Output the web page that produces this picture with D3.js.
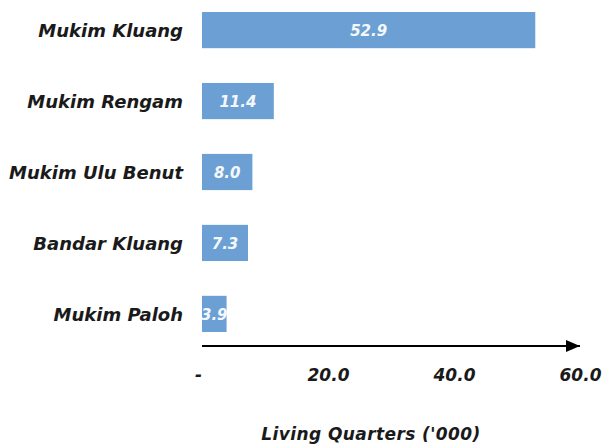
<!DOCTYPE html>
<html>
<head>
<meta charset="utf-8">
<script src="https://cdn.jsdelivr.net/npm/d3@7"></script>
<style>
  html, body { margin: 0; padding: 0; background: #ffffff; }
  svg { display: block; }
  text { font-family: "DejaVu Sans", "Lato", sans-serif; font-style: italic; }
</style>
</head>
<body>
<svg id="chart" width="604" height="445"></svg>
<script>
// Living quarters by mukim, in thousands
const categories = ["Mukim Kluang", "Mukim Rengam", "Mukim Ulu Benut", "Bandar Kluang", "Mukim Paloh"];
const values = [52.9, 11.4, 8.0, 7.3, 3.9];
const tickValues = [0, 20, 40, 60];
const tickLabels = ["-", "20.0", "40.0", "60.0"];
const axisTitle = "Living Quarters ('000)";

const svg = d3.select("#chart");

const x = d3.scaleLinear().domain([0, 60]).range([202, 580]);
const y = d3.scaleBand().domain(categories).range([12, 332]).paddingInner(0.49).paddingOuter(0);

const barColor = "#6ca0d4";

// Bars
svg.append("g").selectAll("rect")
  .data(values)
  .join("rect")
  .attr("x", x(0))
  .attr("y", (d, i) => y(categories[i]))
  .attr("width", d => x(d) - x(0))
  .attr("height", y.bandwidth())
  .attr("fill", barColor);

// Value labels inside bars
svg.append("g").selectAll("text")
  .data(values)
  .join("text")
  .attr("x", d => (x(0) + x(d)) / 2)
  .attr("y", (d, i) => y(categories[i]) + y.bandwidth() / 2 + 6)
  .attr("text-anchor", "middle")
  .attr("fill", "#f4f8fc")
  .attr("font-size", 15)
  .attr("font-weight", 700)
  .text(d => d.toFixed(1));

// Category labels
svg.append("g").selectAll("text")
  .data(categories)
  .join("text")
  .attr("x", 183)
  .attr("y", d => y(d) + y.bandwidth() / 2 + 7)
  .attr("text-anchor", "end")
  .attr("fill", "#1a1a1a")
  .attr("font-size", 18)
  .attr("font-weight", 700)
  .text(d => d);

// Axis with arrowhead
svg.append("defs").append("marker")
  .attr("id", "arrow")
  .attr("viewBox", "0 0 14 12")
  .attr("refX", 14).attr("refY", 6)
  .attr("markerWidth", 14).attr("markerHeight", 12)
  .attr("markerUnits", "userSpaceOnUse")
  .attr("orient", "auto")
  .append("path")
  .attr("d", "M0,0 L14,6 L0,12 Z")
  .attr("fill", "#000");

svg.append("line")
  .attr("x1", x(0)).attr("x2", x(60))
  .attr("y1", 346).attr("y2", 346)
  .attr("stroke", "#000")
  .attr("stroke-width", 2)
  .attr("marker-end", "url(#arrow)");

const axis = d3.axisBottom(x)
  .tickValues(tickValues)
  .tickSize(0)
  .tickFormat((d, i) => tickLabels[i]);

const axisG = svg.append("g")
  .attr("transform", "translate(0,366)")
  .call(axis);
axisG.select(".domain").remove();
axisG.selectAll("text")
  .attr("font-family", null)
  .attr("font-size", 17)
  .attr("font-weight", 700)
  .attr("fill", "#1a1a1a")
  .attr("dy", "0.71em")
  .attr("dx", (d, i) => i === 0 ? -4 : 0);

// Axis title
svg.append("text")
  .attr("x", 371)
  .attr("y", 440)
  .attr("text-anchor", "middle")
  .attr("fill", "#1a1a1a")
  .attr("font-size", 17)
  .attr("font-weight", 700)
  .attr("letter-spacing", 0.4)
  .text(axisTitle);
</script>
</body>
</html>
